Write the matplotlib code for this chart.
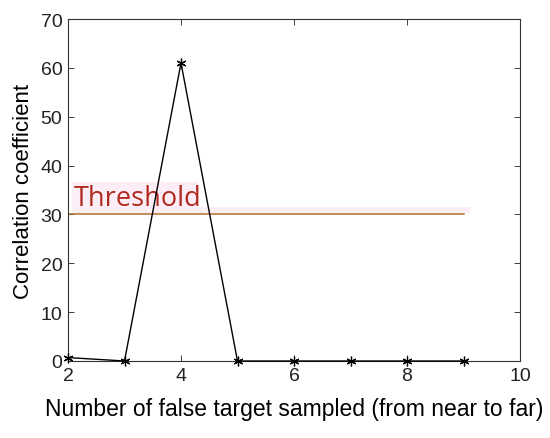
import matplotlib
matplotlib.use("Agg")
import matplotlib.pyplot as plt
from matplotlib.patches import Rectangle

# data
targets = [2, 3, 4, 5, 6, 7, 8, 9]
corr = [0.7, 0.0, 61.0, 0.0, 0.0, 0.0, 0.0, 0.0]
threshold = 30
threshold_x = [2, 9]
x_ticks = [2, 4, 6, 8, 10]
y_ticks = [0, 10, 20, 30, 40, 50, 60, 70]

plt.rcParams['font.family'] = ['Liberation Sans', 'DejaVu Sans']

fig = plt.figure(figsize=(5.5, 4.39), dpi=100)
ax = fig.add_axes([68 / 550, 1 - 362 / 439, 452 / 550, 342 / 439])

# pink highlight behind the label and along the line
ax.add_patch(Rectangle((2.07, 30.3), 2.23, 6.3, color="#fdedf6", lw=0, zorder=0))
ax.add_patch(Rectangle((2.07, 30.3), 7.05, 1.2, color="#fdedf6", lw=0, zorder=0))

ax.plot(threshold_x, [threshold, threshold], color="#b0702a", lw=1.1, zorder=2)
ax.text(2.1, 32.0, "Threshold", color="#b02a1e", fontsize=19.5,
        family=["Open Sans", "DejaVu Sans"], zorder=3)

ax.plot(targets, corr, color="black", lw=1, marker=(6, 2, 0), markersize=7,
        markeredgewidth=0.9, zorder=4, clip_on=False)

ax.set_xlim(2, 10)
ax.set_ylim(0, 70)
ax.set_xticks(x_ticks)
ax.set_yticks(y_ticks)
ax.tick_params(direction="in", labelsize=14, length=4, width=0.6,
               top=True, right=True, pad=4, colors="#222222")
for s in ax.spines.values():
    s.set_linewidth(0.8)
    s.set_color("#333333")

ax.set_xlabel("Number of false target sampled (from near to far)", fontsize=16.5, labelpad=10)
ax.set_ylabel("Correlation coefficient", fontsize=16, labelpad=5)

fig.savefig("out.png", dpi=100)
